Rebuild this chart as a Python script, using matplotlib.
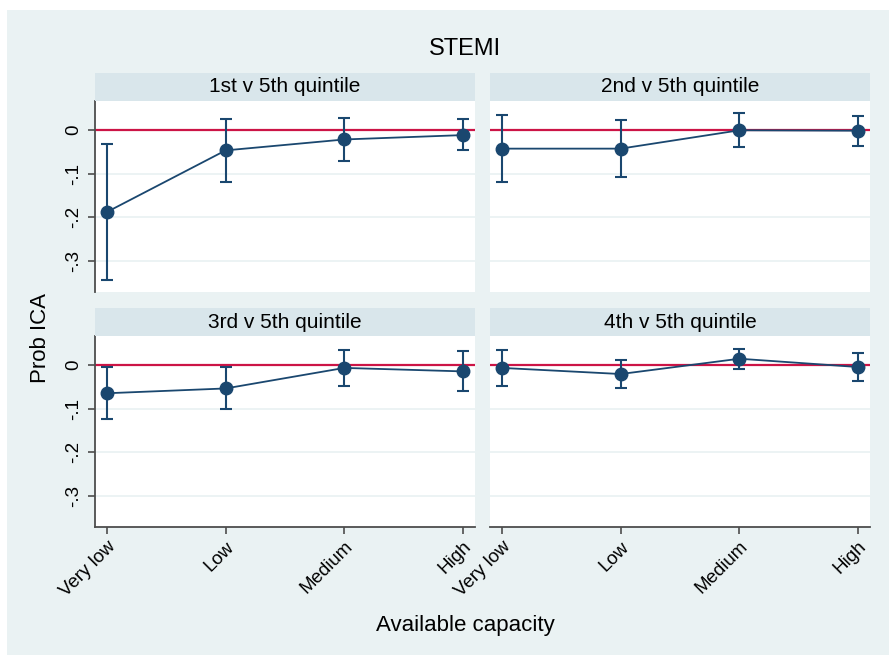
import numpy as np
import matplotlib
matplotlib.use("Agg")
import matplotlib.pyplot as plt
from matplotlib.patches import Rectangle

plt.rcParams['font.family'] = ['Liberation Sans', 'DejaVu Sans']

# data (marginal effect with 95% CI)
categories = ["Very low", "Low", "Medium", "High"]
panel_titles = ["1st v 5th quintile", "2nd v 5th quintile",
                "3rd v 5th quintile", "4th v 5th quintile"]
est_q1 = [-0.188, -0.047, -0.022, -0.012]
lo_q1 = [-0.343, -0.120, -0.072, -0.047]
hi_q1 = [-0.033, 0.024, 0.027, 0.024]
est_q2 = [-0.043, -0.043, -0.001, -0.002]
lo_q2 = [-0.119, -0.108, -0.040, -0.036]
hi_q2 = [0.034, 0.022, 0.039, 0.032]
est_q3 = [-0.065, -0.054, -0.007, -0.015]
lo_q3 = [-0.123, -0.102, -0.049, -0.060]
hi_q3 = [-0.006, -0.005, 0.035, 0.031]
est_q4 = [-0.007, -0.021, 0.014, -0.005]
lo_q4 = [-0.049, -0.053, -0.010, -0.036]
hi_q4 = [0.034, 0.010, 0.037, 0.028]
yticks = [0, -0.1, -0.2, -0.3]
ytick_labels = ["0", "-.1", "-.2", "-.3"]

series = [(est_q1, lo_q1, hi_q1), (est_q2, lo_q2, hi_q2),
          (est_q3, lo_q3, hi_q3), (est_q4, lo_q4, hi_q4)]

W, H = 889, 655
bg = '#eaf2f3'
strip_c = '#d9e6eb'
navy = '#1a476f'
red = '#cc1446'
spine_c = '#4d4d4d'

fig = plt.figure(figsize=(W/100, H/100), dpi=100, facecolor='white')
fig.patches.append(Rectangle((7/W, 0), 1 - 7/W, 1 - 10/H, transform=fig.transFigure,
                             facecolor=bg, edgecolor='none', zorder=-10))

def px_axes(x0, y0, x1, y1):
    # pixel box (top-left origin) -> figure axes
    return fig.add_axes([x0/W, 1 - y1/H, (x1 - x0)/W, (y1 - y0)/H])

col_x = [(95, 475), (490, 870)]
row_y = [(101, 292), (336, 527)]
strip_h = 28

xs = np.arange(1, len(categories) + 1)
for k, (est, lo, hi) in enumerate(series):
    r, c = divmod(k, 2)
    x0, x1 = col_x[c]
    y0, y1 = row_y[r]
    ax = px_axes(x0, y0, x1, y1)
    ax.set_facecolor('white')
    # strip
    st = px_axes(x0, y0 - strip_h, x1, y0)
    st.set_facecolor(strip_c)
    st.set_xticks([]); st.set_yticks([])
    for s in st.spines.values():
        s.set_visible(False)
    st.text(0.5, 0.5, panel_titles[k], ha='center', va='center', fontsize=15,
            transform=st.transAxes)

    est = np.array(est); lo = np.array(lo); hi = np.array(hi)
    for yt in yticks:
        ax.axhline(yt, color=bg, lw=1.3, zorder=0)
    ax.axhline(0, color=red, lw=1.6, zorder=1)
    ax.errorbar(xs, est, yerr=[est - lo, hi - est], fmt='none', ecolor=navy,
                elinewidth=1.5, capsize=4.5, capthick=1.5, zorder=2)
    ax.plot(xs, est, color=navy, lw=1.3, marker='o', markersize=9, zorder=3)

    ax.set_xlim(0.9, 4.1)
    ax.set_ylim(-0.371, 0.066)
    for s in ['top', 'right']:
        ax.spines[s].set_visible(False)
    ax.spines['left'].set_visible(c == 0)
    ax.spines['bottom'].set_visible(r == 1)
    ax.spines['left'].set_color(spine_c)
    ax.spines['bottom'].set_color(spine_c)
    ax.spines['left'].set_linewidth(1.3)
    ax.spines['bottom'].set_linewidth(1.3)

    if c == 0:
        ax.set_yticks(yticks)
        ax.set_yticklabels(ytick_labels, rotation=90, va='center', fontsize=13.5)
        ax.tick_params(axis='y', length=5, width=1.2, color=spine_c, pad=4)
    else:
        ax.set_yticks([])
    if r == 1:
        ax.set_xticks(xs)
        ax.set_xticklabels(categories, rotation=45, ha='right', rotation_mode='anchor',
                           fontsize=13.5)
        ax.tick_params(axis='x', length=5, width=1.2, color=spine_c, pad=3)
    else:
        ax.set_xticks([])

fig.text(465/W, 1 - 49/H, "STEMI", ha='center', va='center', fontsize=17)
fig.text(41/W, 1 - 338/H, "Prob ICA", ha='center', va='center', rotation=90, fontsize=16)
fig.text(465/W, 1 - 626/H, "Available capacity", ha='center', va='center', fontsize=16)

fig.savefig("out.png", dpi=100, facecolor='white')
